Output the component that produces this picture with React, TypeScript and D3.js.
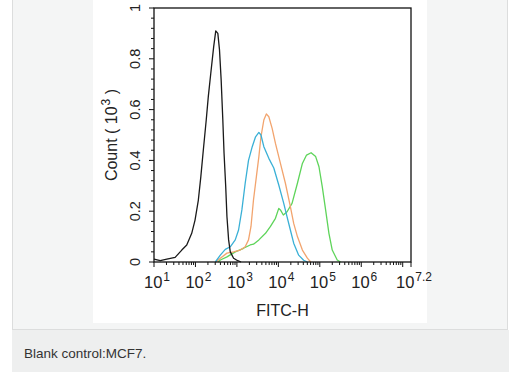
import * as d3 from "d3";
import {useEffect, useRef} from "react";

// histogram traces, x as log10(FITC-H), y as count (10^3)
const blackLog = [1.0, 1.15, 1.31, 1.51, 1.67, 1.79, 1.91, 1.99, 2.07, 2.13, 2.19, 2.26, 2.31, 2.37, 2.44, 2.49, 2.54, 2.58, 2.62, 2.66, 2.69, 2.73, 2.76, 2.8, 2.84, 2.92, 3.02, 3.1];
const blackCount = [0.011, 0.005, 0.011, 0.018, 0.047, 0.067, 0.113, 0.165, 0.244, 0.336, 0.441, 0.559, 0.651, 0.743, 0.848, 0.91, 0.9, 0.835, 0.717, 0.56, 0.428, 0.297, 0.178, 0.087, 0.04, 0.015, 0.005, 0];

const blueLog = [2.48, 2.6, 2.72, 2.84, 2.96, 3.04, 3.12, 3.2, 3.28, 3.37, 3.45, 3.53, 3.58, 3.65, 3.77, 3.89, 4.01, 4.13, 4.21, 4.29, 4.37, 4.49, 4.61, 4.7];
const blueCount = [0, 0.027, 0.05, 0.06, 0.087, 0.126, 0.205, 0.31, 0.4, 0.454, 0.493, 0.51, 0.5, 0.454, 0.408, 0.37, 0.303, 0.231, 0.178, 0.126, 0.074, 0.027, 0.007, 0];

const orangeLog = [2.5, 2.6, 2.76, 2.92, 3.08, 3.2, 3.28, 3.34, 3.4, 3.47, 3.53, 3.58, 3.65, 3.71, 3.77, 3.85, 3.93, 4.05, 4.17, 4.29, 4.37, 4.46, 4.58, 4.7, 4.78];
const orangeCount = [0, 0.015, 0.035, 0.04, 0.047, 0.06, 0.087, 0.14, 0.244, 0.336, 0.415, 0.493, 0.559, 0.583, 0.572, 0.526, 0.467, 0.388, 0.31, 0.218, 0.152, 0.1, 0.047, 0.015, 0];

const greenLog = [2.55, 2.6, 2.76, 2.96, 3.16, 3.32, 3.4, 3.53, 3.69, 3.81, 3.93, 4.01, 4.05, 4.12, 4.21, 4.33, 4.46, 4.58, 4.68, 4.79, 4.9, 4.98, 5.06, 5.14, 5.22, 5.3, 5.42, 5.5];
const greenCount = [0, 0.008, 0.02, 0.04, 0.054, 0.067, 0.07, 0.087, 0.113, 0.14, 0.172, 0.211, 0.205, 0.185, 0.198, 0.231, 0.31, 0.388, 0.421, 0.43, 0.415, 0.375, 0.296, 0.205, 0.113, 0.047, 0.008, 0];

const xExponents = ["1", "2", "3", "4", "5", "6", "7.2"];
const yTicks = [0, 0.2, 0.4, 0.6, 0.8, 1];
const caption = "Blank control:MCF7.";

const font = "'Liberation Sans', Arial, sans-serif";

const App = () => {
    const ref = useRef<SVGSVGElement>(null);

    useEffect(() => {
        const svg = d3.select(ref.current);
        svg.selectAll("*").remove();

        // page / panel background
        svg.append("rect").attr("width", 509).attr("height", 372).attr("fill", "#fff");
        svg.append("rect").attr("x", 12).attr("y", 0).attr("width", 496).attr("height", 329).attr("fill", "#f4f5f5");
        svg.append("rect").attr("x", 12).attr("y", 330).attr("width", 497).attr("height", 42).attr("fill", "#eeefef");
        svg.append("line").attr("x1", 12.5).attr("x2", 12.5).attr("y1", 0).attr("y2", 330).attr("stroke", "#dcdddd");
        svg.append("line").attr("x1", 507.5).attr("x2", 507.5).attr("y1", 0).attr("y2", 330).attr("stroke", "#dcdddd");
        svg.append("line").attr("x1", 12).attr("x2", 508).attr("y1", 329.5).attr("y2", 329.5).attr("stroke", "#dcdddd");
        svg.append("rect").attr("x", 93).attr("y", 0).attr("width", 334).attr("height", 323).attr("fill", "#fff");

        svg.append("text")
            .attr("x", 24).attr("y", 358)
            .attr("font-family", font).attr("font-size", 13.5).attr("fill", "#333")
            .text(caption);

        // plot
        const left = 154, right = 411, top = 8, bottom = 262;
        const x = d3.scaleLog().domain([10, Math.pow(10, 7.2)]).range([left, right]);
        const y = d3.scaleLinear().domain([0, 1]).range([bottom, top]);

        const g = svg.append("g");

        const line = d3.line<[number, number]>()
            .x(d => x(Math.pow(10, d[0])))
            .y(d => y(d[1]));

        const series = [
            {lg: greenLog, ct: greenCount, color: "#5ed45a"},
            {lg: orangeLog, ct: orangeCount, color: "#f2a46e"},
            {lg: blueLog, ct: blueCount, color: "#3ab0d6"},
            {lg: blackLog, ct: blackCount, color: "#1a1a1a"},
        ];
        series.forEach(s => {
            g.append("path")
                .datum(s.lg.map((v, i) => [v, s.ct[i]] as [number, number]))
                .attr("fill", "none")
                .attr("stroke", s.color)
                .attr("stroke-width", 1.3)
                .attr("stroke-linejoin", "round")
                .attr("d", line);
        });

        // frame
        g.append("rect")
            .attr("x", left).attr("y", top)
            .attr("width", right - left).attr("height", bottom - top)
            .attr("fill", "none").attr("stroke", "#111").attr("stroke-width", 1.3);

        // y ticks, minor every 0.04
        d3.range(0, 26).forEach(i => {
            const v = i * 0.04;
            const major = i % 5 === 0;
            g.append("line")
                .attr("x1", left).attr("x2", left - (major ? 5 : 3))
                .attr("y1", y(v)).attr("y2", y(v))
                .attr("stroke", "#111").attr("stroke-width", 1);
        });
        yTicks.forEach(t => {
            g.append("text")
                .attr("transform", `translate(140, ${y(t)}) rotate(-90)`)
                .attr("text-anchor", "middle")
                .attr("font-family", font).attr("font-size", 14.5).attr("fill", "#222")
                .text(t === 0 ? "0" : t === 1 ? "1" : d3.format(".1f")(t));
        });

        // x ticks, log minor ticks
        for (let d = 1; d <= 7; d++) {
            for (let m = 1; m <= 9; m++) {
                const v = m * Math.pow(10, d);
                if (v > Math.pow(10, 7.2)) break;
                g.append("line")
                    .attr("x1", x(v)).attr("x2", x(v))
                    .attr("y1", bottom).attr("y2", bottom + (m === 1 ? 5 : 3))
                    .attr("stroke", "#111").attr("stroke-width", 1);
            }
        }
        g.append("line")
            .attr("x1", right).attr("x2", right)
            .attr("y1", bottom).attr("y2", bottom + 5)
            .attr("stroke", "#111").attr("stroke-width", 1);

        xExponents.forEach(e => {
            const t = g.append("text")
                .attr("x", x(Math.pow(10, +e)) + 3)
                .attr("y", 288)
                .attr("text-anchor", "middle")
                .attr("font-family", font).attr("font-size", 16.5).attr("fill", "#222");
            t.append("tspan").text("10");
            t.append("tspan").attr("dx", 1).attr("dy", -7).attr("font-size", 12).text(e);
        });

        // axis titles
        g.append("text")
            .attr("x", (left + right) / 2).attr("y", 316)
            .attr("text-anchor", "middle")
            .attr("font-family", font).attr("font-size", 16).attr("fill", "#222")
            .text("FITC-H");

        const yt = g.append("text")
            .attr("transform", `translate(117, ${(top + bottom) / 2}) rotate(-90)`)
            .attr("text-anchor", "middle")
            .attr("font-family", font).attr("font-size", 16).attr("fill", "#222");
        yt.append("tspan").text("Count ( 10");
        yt.append("tspan").attr("dx", 1).attr("dy", -7).attr("font-size", 12).text("3");
        yt.append("tspan").attr("dy", 7).text(" )");
    }, []);

    return (
        <svg ref={ref} width={509} height={372}
             style={{position: "absolute", left: 0, top: 0, display: "block"}}/>
    );
};

export default App;
